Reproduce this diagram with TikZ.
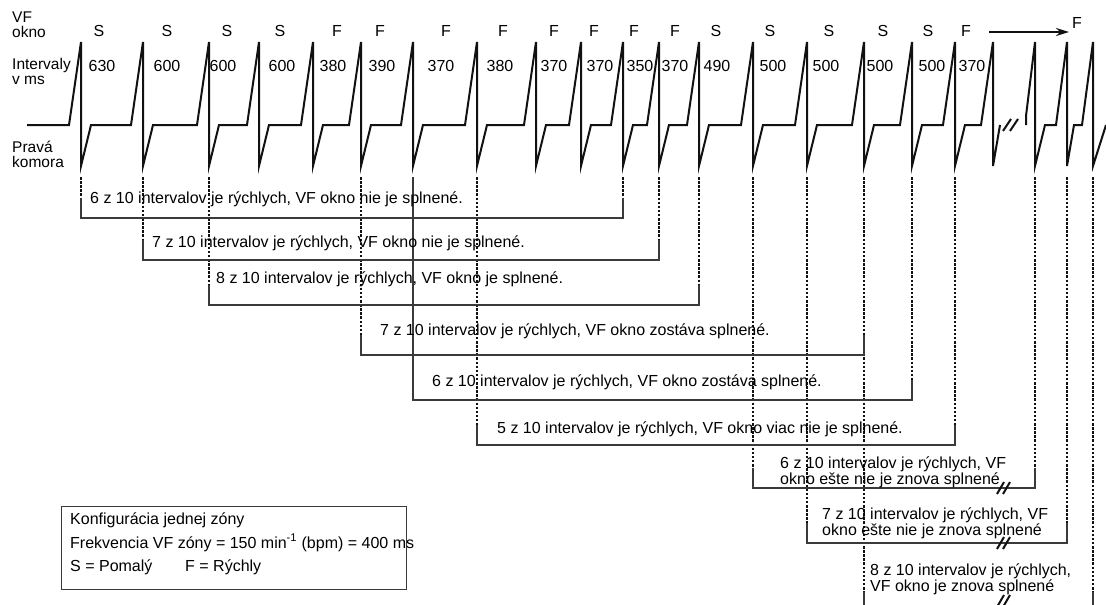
\documentclass[tikz,border=0pt]{standalone}
\usepackage{fontspec}
\setmainfont{Liberation Sans}
\usepackage{tikz}
\usetikzlibrary{arrows.meta, positioning}
\usepackage{xcolor}
\definecolor{ecgDark}{HTML}{111111}
\definecolor{ecgGray}{HTML}{3A3A3A}
\tikzset{
  wave/.style    = {line width=2pt, color=ecgDark},
  brk/.style     = {line width=2pt, color=ecgDark},
  guide/.style   = {line width=1.2pt, color=ecgDark, dash pattern=on 2.5pt off 1.6pt},
  bracket/.style = {line width=1.5pt, color=ecgGray},
  toparrow/.style= {-{Stealth[length=13pt, width=8pt]}, line width=2.4pt, color=ecgDark},
  lbl/.style     = {inner sep=0pt, anchor=base west, font=\fontsize{16}{19}\selectfont},
  sidelbl/.style = {inner sep=0pt, anchor=base west, font=\fontsize{15.5}{17}\selectfont},
  rowlbl/.style  = {inner sep=0pt, anchor=base, font=\fontsize{16}{19}\selectfont},
  cfgbox/.style  = {draw=ecgGray, line width=1.3pt, anchor=north west, inner sep=0pt,
                    minimum width=345pt, minimum height=83pt},
}
\begin{document}
\begin{tikzpicture}[x=1pt, y=-1pt]
  \path[use as bounding box, clip] (0,0) rectangle (1106,605);

  % spike tops of the ventricle trace
  \foreach \x [count=\i] in {81,143,209,259,313,361,413,477,536,581,623,659,699,753,807,864,912,955,993,1035,1067,1093}
    \coordinate (s\i) at (\x,42);

  % trace up to the break
  \draw[wave] (27,125)
    foreach \x in {81,143,209,259,313,361,413,477,536,581,623,659,699,753,807,864,912,955}
      { -- ({\x-12},125) -- (\x,42) -- (\x,166) -- ({\x+10},125) }
    -- (981,125) -- (s19) -- (993,166) -- (1000,125);
  \draw[brk] (1003,131) -- (1011,119) (1010,131) -- (1018,119);
  % trace after the break
  \draw[wave] (1026,125) -- (1026,116) -- (s20) -- (1035,166) -- (1045,125)
    -- (1056,125) -- (s21) -- (1067,166) -- (1074,125)
    -- (1082,125) -- (s22) -- (1093,166) -- (1106,125);

  % row labels
  \node[sidelbl] (vf)     at (12,22)  {VF};
  \node[sidelbl] (okno)   at (12,37)  {okno};
  \node[sidelbl] (intv)   at (12,69)  {Intervaly};
  \node[sidelbl] (vms)    at (12,84)  {v ms};
  \node[sidelbl] (prava)  at (12,152) {Pravá};
  \node[sidelbl] (komora) at (12,167) {komora};

  \foreach \x/\t [count=\i] in {99/S,167/S,227/S,280/S,337/F,380/F,446/F,503/F,554/F,594/F,634/F,675/F,716/S,770/S,829/S,883/S,928/S,966/F}
    \node[rowlbl] (sf\i) at (\x,36) {\t};
  \foreach \x/\t [count=\i] in {102/630,167/600,223/600,282/600,333/380,382/390,441/370,500/380,554/370,600/370,640/350,675/370,717/490,773/500,826/500,880/500,932/500,972/370}
    \node[rowlbl] (ms\i) at (\x,71) {\t};

  % window keeps running
  \coordinate (arrL) at (989,32);
  \coordinate (arrR) at (1069,32);
  \draw[toparrow] (arrL) -- (arrR);
  \node[rowlbl] (fnext) at (1077,28) {F};

  % guides from the spikes down to the brackets
  \foreach \i/\e in {1/198,2/240,3/285,6/335,8/425,11/198,12/240,13/285,14/468,15/523,16/592,17/380,18/425,20/468,21/523,22/592}
    \draw[guide] (s\i |- 0,177) -- (s\i |- 0,\e);
  \draw[bracket] (s7 |- 0,177) -- (s7 |- 0,380);

  % brackets over 10 intervals
  \foreach \l/\r/\y/\t in {1/11/218/198, 2/12/260/240, 3/13/305/285, 6/16/355/335, 7/17/400/380,
                           8/18/445/425, 14/20/488/468, 15/21/543/523, 16/22/612/592}
    \draw[bracket] (s\l |- 0,\t) -- (s\l |- 0,\y) -- (s\r |- 0,\y) -- (s\r |- 0,\t);
  \foreach \y in {488,543,601}
    \draw[brk] (997,{\y+6}) -- (1004,{\y-6}) (1003,{\y+6}) -- (1010,{\y-6});

  \node[lbl] (w1)  at (90,203)  {6 z 10 intervalov je rýchlych, VF okno nie je splnené.};
  \node[lbl] (w2)  at (152,247) {7 z 10 intervalov je rýchlych, VF okno nie je splnené.};
  \node[lbl] (w3)  at (216,283) {8 z 10 intervalov je rýchlych, VF okno je splnené.};
  \node[lbl] (w4)  at (380,335) {7 z 10 intervalov je rýchlych, VF okno zostáva splnené.};
  \node[lbl] (w5)  at (432,386) {6 z 10 intervalov je rýchlych, VF okno zostáva splnené.};
  \node[lbl] (w6)  at (497,433) {5 z 10 intervalov je rýchlych, VF okno viac nie je splnené.};
  \node[lbl] (w7a) at (780,468) {6 z 10 intervalov je rýchlych, VF};
  \node[lbl] (w7b) at (780,484) {okno ešte nie je znova splnené};
  \node[lbl] (w8a) at (822,519) {7 z 10 intervalov je rýchlych, VF};
  \node[lbl] (w8b) at (822,535) {okno ešte nie je znova splnené};
  \node[lbl] (w9a) at (870,575) {8 z 10 intervalov je rýchlych,};
  \node[lbl] (w9b) at (870,591) {VF okno je znova splnené};

  % zone configuration
  \node[cfgbox] (cfg) at (61,506) {};
  \node[lbl] (cfg1) at (70,524) {Konfigurácia jednej zóny};
  \node[lbl] (cfg2) at (70,548) {Frekvencia VF zóny = 150 min\textsuperscript{-1} (bpm) = 400 ms};
  \node[lbl] (cfg3) at (70,571) {S = Pomalý};
  \node[lbl] (cfg4) at (185,571) {F = Rýchly};
\end{tikzpicture}
\end{document}
